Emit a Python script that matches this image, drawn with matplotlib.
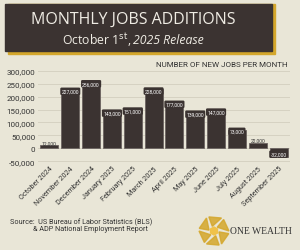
import matplotlib.pyplot as plt
import numpy as np
from matplotlib.patches import Rectangle, Polygon

months = ["October 2024", "November 2024", "December 2024", "January 2025",
          "February 2025", "March 2025", "April 2025", "May 2025", "June 2025",
          "July 2025", "August 2025", "September 2025"]
jobs = [12000, 227000, 256000, 143000, 151000, 228000, 177000, 139000,
        147000, 73000, 22000, -32000]
yticks = [-50000, 0, 50000, 100000, 150000, 200000, 250000, 300000]

bg = "#e9e6d7"
dark = "#3b3331"
gold = "#d4a72c"

W, H = 300, 251
fig = plt.figure(figsize=(W / 100, H / 100), dpi=100, facecolor=bg)

def fx(px):
    return px / W

def fy(py):
    return 1 - py / H

# title box with gold shadow
fig.patches.append(Rectangle((fx(8), fy(55)), fx(267), 50 / H, transform=fig.transFigure,
                             color=gold, zorder=0))
fig.patches.append(Rectangle((fx(5), fy(52)), fx(267), 47 / H, transform=fig.transFigure,
                             color=dark, zorder=1))
fig.text(fx(133), fy(20), "MONTHLY JOBS ADDITIONS", color="#efece4", fontsize=11.5,
         family="Open Sans", ha="center", va="center", zorder=2)
fig.text(fx(131), fy(40), r"October 1$^{\mathrm{st}}$,", color="#efece4", fontsize=8.8,
         family="Open Sans", ha="right", va="center", zorder=2)
fig.text(fx(133), fy(40), "2025 Release", color="#efece4", fontsize=8.8, style="italic",
         family="Open Sans", ha="left", va="center", zorder=2)

# chart
ax = fig.add_axes([fx(38), fy(163), fx(252), 92 / H])
ax.set_facecolor(bg)
x = np.arange(len(jobs))
ax.bar(x, jobs, width=0.86, color=dark, edgecolor="#6b6360", linewidth=0.6, zorder=3)
ax.set_ylim(-52000, 302000)
ax.set_xlim(-0.55, len(jobs) - 0.45)
ax.set_yticks(yticks)
ax.set_yticklabels([f"{v:,}" for v in yticks], fontsize=5.8, family="Roboto", color="#333333")
ax.set_xticks(x)
ax.set_xticklabels(months, rotation=45, ha="right", rotation_mode="anchor",
                   fontsize=5.2, family="Roboto", color="#333333")
ax.tick_params(length=0, pad=2)
ax.grid(axis="y", color="#d6d2c2", linewidth=0.7, zorder=0)
for s in ax.spines.values():
    s.set_visible(False)

for xi, v in zip(x, jobs):
    lab = f"{v:,}"
    if v > 40000:
        ax.text(xi, v - 7000, lab, ha="center", va="center", fontsize=3.6, color="white",
                family="Roboto", zorder=4,
                bbox=dict(boxstyle="round,pad=0.25", fc=dark, ec="none"))
    elif v >= 0:
        ax.text(xi, v + 9000, lab, ha="center", va="center", fontsize=3.6, color="#333333",
                family="Roboto", zorder=4)
    else:
        ax.text(xi, v + 10000, lab, ha="center", va="center", fontsize=3.6, color="white",
                family="Roboto", zorder=4,
                bbox=dict(boxstyle="round,pad=0.25", fc=dark, ec="none"))

fig.text(fx(288), fy(65), "NUMBER OF NEW JOBS PER MONTH", fontsize=5.8, family="Roboto",
         color="#333333", ha="right", va="center")

# source
fig.text(fx(10), fy(222), "Source:  US Bureau of Labor Statistics (BLS)", fontsize=5.2,
         family="Roboto", color="#333333", ha="left", va="center")
fig.text(fx(33), fy(230), "& ADP National Employment Report", fontsize=5.2,
         family="Roboto", color="#333333", ha="left", va="center")

# logo
cx, cy = 214, 232
for k in range(6):
    a0 = np.deg2rad(60 * k + 10)
    a1 = np.deg2rad(60 * k + 60)
    pts = [(cx + 5 * np.cos(a0), cy + 5 * np.sin(a0)),
           (cx + 15 * np.cos(a0), cy + 15 * np.sin(a0)),
           (cx + 15 * np.cos(a1), cy + 15 * np.sin(a1))]
    fig.patches.append(Polygon([(fx(px), fy(py)) for px, py in pts], closed=True,
                               transform=fig.transFigure, color=gold, alpha=0.85))
fig.patches.append(Polygon([(fx(cx + 4 * np.cos(np.deg2rad(60 * k + 30))),
                             fy(cy + 4 * np.sin(np.deg2rad(60 * k + 30)))) for k in range(6)],
                           closed=True, transform=fig.transFigure, color="#f0c24a"))
fig.text(fx(230), fy(232), "ONE WEALTH", fontsize=6.9, family="Liberation Serif",
         color="#333333", ha="left", va="center")

fig.savefig("out.png", dpi=100, facecolor=bg)
